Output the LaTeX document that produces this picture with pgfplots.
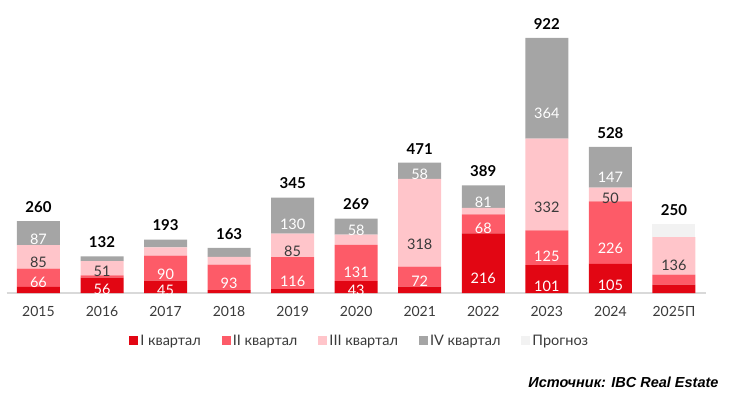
\documentclass[border=0pt]{standalone}
\usepackage{pgfplots}
\pgfplotsset{compat=1.18}
\usepackage{pgfplotstable}
\usepackage{fontspec}
\setmainfont{Lato}
\newfontfamily\srcfont{Liberation Sans}
\definecolor{qone}{HTML}{E20613}
\definecolor{qtwo}{HTML}{FD5B68}
\definecolor{qthree}{HTML}{FFC5CA}
\definecolor{qfour}{HTML}{A5A5A5}
\definecolor{qfc}{HTML}{F2F2F2}
\definecolor{txt}{HTML}{3A3A3A}

\pgfplotstableread{
x Q1 Q2 Q3 Q4 F T
0 22 66 85 87 0 260
1 56 8 51 17 0 132
2 45 90 30 28 0 193
3 10 93 28 32 0 163
4 14 116 85 130 0 345
5 43 131 37 58 0 269
6 23 72 318 58 0 471
7 216 68 24 81 0 389
8 101 125 332 364 0 922
9 105 226 50 147 0 528
10 30 36 136 0 48 250
}\data

\pgfkeys{/pgf/number format/assume math mode=true}
\pgfplotsset{
  seg/.style n args={3}{fill=#1, draw=none,
    visualization depends on={rawy \as \rawv},
    nodes near coords={\pgfmathtruncatemacro\okv{\rawv>=40}\ifnum\okv=1 \pgfmathprintnumber{\rawv}\fi},
    every node near coord/.append style={anchor=center, text=#3,
      font=\fontsize{14.5}{16}\selectfont, yshift={-0.06915*\rawv}}},
  base/.style={
    at={(0pt,0pt)}, anchor=south west,
    scale only axis, width=699pt, height=276.6pt,
    xmin=-0.5, xmax=10.5, ymin=0, ymax=1000, clip=false},
}

\begin{document}
\begin{tikzpicture}
\path[use as bounding box] (-6.7pt,-106pt) rectangle (722.3pt,293pt);
\begin{axis}[base,
  ybar stacked, bar width=43pt,
  axis y line=none, axis x line*=bottom,
  x axis line style={draw=black!15, line width=1.2pt, -},
  xtick=data,
  xticklabels={2015,2016,2017,2018,2019,2020,2021,2022,2023,2024,2025П},
  major tick length=0pt,
  xticklabel style={anchor=center, yshift=-18pt, text=txt, font=\fontsize{14}{16}\selectfont},
  legend columns=5,
  legend style={at={(axis description cs:0.505,-0.1735)}, anchor=center, draw=none,
    font=\fontsize{14.5}{16}\selectfont, text=txt,
    /tikz/every even column/.append style={column sep=19pt}},
  legend image code/.code={\fill[#1] (0pt,-4.5pt) rectangle (9pt,4.5pt);},
]
\addplot[seg={qone}{Q1}{white}] table[x=x, y=Q1]{\data};
\addplot[seg={qtwo}{Q2}{white}] table[x=x, y=Q2]{\data};
\addplot[seg={qthree}{Q3}{txt}] table[x=x, y=Q3]{\data};
\addplot[seg={qfour}{Q4}{white}] table[x=x, y=Q4]{\data};
\addplot[fill=qfc, draw=none] table[x=x, y=F]{\data};
\legend{I квартал, II квартал, III квартал, IV квартал, Прогноз}
\end{axis}
\begin{axis}[base, axis lines=none]
\addplot[draw=none, mark=none, point meta=explicit, nodes near coords,
  nodes near coords style={anchor=south, yshift=5pt, text=black,
  font=\bfseries\fontsize{15}{17}\selectfont}] table[x=x, y=T, meta=T]{\data};
\end{axis}
\node[anchor=east, font=\srcfont\bfseries\itshape\fontsize{14.5}{16}\selectfont] at (715.3pt,-89pt) {Источник: IBC Real Estate};
\end{tikzpicture}
\end{document}
